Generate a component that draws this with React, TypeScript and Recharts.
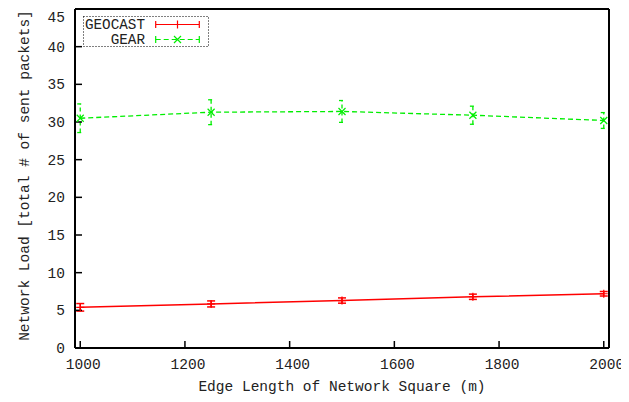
import { LineChart, Line, XAxis, YAxis, ErrorBar, Legend } from 'recharts';

const edgeLengths = [1000, 1250, 1500, 1750, 2000];
const geocastLoad = [5.4, 5.85, 6.3, 6.8, 7.2];
const geocastErr = [0.5, 0.4, 0.35, 0.35, 0.3];
const gearLoad = [30.5, 31.3, 31.4, 30.9, 30.2];
const gearErr = [1.9, 1.65, 1.45, 1.2, 1.05];
const xTicks = [1000, 1200, 1400, 1600, 1800, 2000];
const yTicks = [0, 5, 10, 15, 20, 25, 30, 35, 40, 45];

const FONT = "'Liberation Mono', 'DejaVu Sans Mono', monospace";
const RED = '#ff0000';
const GREEN = '#00ee00';

const data = edgeLengths.map((x, i) => ({
  x,
  geocast: geocastLoad[i],
  geocastErr: geocastErr[i],
  gear: gearLoad[i],
  gearErr: gearErr[i],
}));

function plusMark(cx: number, cy: number, color: string, key?: string | number) {
  return (
    <path
      key={key}
      d={`M${cx - 4},${cy}h8M${cx},${cy - 4}v8`}
      stroke={color}
      strokeWidth={1.2}
      fill="none"
    />
  );
}

function crossMark(cx: number, cy: number, color: string, key?: string | number) {
  return (
    <path
      key={key}
      d={`M${cx - 3.5},${cy - 3.5}l7,7M${cx - 3.5},${cy + 3.5}l7,-7`}
      stroke={color}
      strokeWidth={1.2}
      fill="none"
    />
  );
}

function LegendBox() {
  const textStyle = { fontFamily: FONT, fontSize: 14.3, fill: '#222' };
  return (
    <svg width={127} height={32} style={{ display: 'block', overflow: 'visible' }}>
      <rect x={0.5} y={0.5} width={125} height={30} fill="none" stroke="#000" strokeDasharray="1 2" />
      <text x={62} y={8.5} textAnchor="end" dominantBaseline="central" style={textStyle}>
        GEOCAST
      </text>
      <path d="M72.7,8.5H116.3M72.7,5v7M116.3,5v7" stroke={RED} strokeWidth={1.2} fill="none" />
      {plusMark(94.5, 8.5, RED)}
      <text x={62} y={23.5} textAnchor="end" dominantBaseline="central" style={textStyle}>
        GEAR
      </text>
      <path d="M72.7,23.5H116.3" stroke={GREEN} strokeWidth={1.2} strokeDasharray="5 3" fill="none" />
      <path d="M72.7,20v7M116.3,20v7" stroke={GREEN} strokeWidth={1.2} fill="none" />
      {crossMark(94.5, 23.5, GREEN)}
    </svg>
  );
}

const tickStyle = { fontFamily: FONT, fontSize: 14.5, fill: '#222' };

export default function App() {
  return (
    <LineChart
      width={621}
      height={386}
      data={data}
      margin={{ top: 0, right: 19, bottom: 0, left: 0 }}
      style={{ fontFamily: FONT }}
    >
      <XAxis
        dataKey="x"
        type="number"
        domain={[990, 2010]}
        ticks={xTicks}
        allowDataOverflow
        height={46}
        axisLine={{ stroke: '#000', strokeWidth: 2 }}
        tickLine={{ stroke: '#000', strokeWidth: 1.5 }}
        tickSize={-7}
        tickMargin={18}
        tick={{ ...tickStyle, dx: 3 }}
        label={({ viewBox }: any) => (
          <text
            x={viewBox.x + viewBox.width / 2}
            y={viewBox.y + 43}
            textAnchor="middle"
            style={tickStyle}
          >
            Edge Length of Network Square (m)
          </text>
        )}
      />
      <XAxis
        xAxisId="top"
        orientation="top"
        type="number"
        domain={[990, 2010]}
        ticks={xTicks}
        allowDataOverflow
        height={1}
        axisLine={{ stroke: '#000', strokeWidth: 2 }}
        tickLine={{ stroke: '#000', strokeWidth: 1.5 }}
        tickSize={-7}
        tick={false}
      />
      <YAxis
        type="number"
        domain={[0, 45]}
        ticks={yTicks}
        allowDataOverflow
        width={67}
        axisLine={{ stroke: '#000', strokeWidth: 2 }}
        tickLine={{ stroke: '#000', strokeWidth: 1.5 }}
        tickSize={-7}
        tickMargin={17}
        tick={tickStyle}
        label={({ viewBox }: any) => {
          const cx = viewBox.x + 16;
          const cy = viewBox.y + viewBox.height / 2 - 3;
          return (
            <text
              x={cx}
              y={cy}
              dy="0.35em"
              textAnchor="middle"
              transform={`rotate(-90 ${cx} ${cy})`}
              style={tickStyle}
            >
              Network Load [total # of sent packets]
            </text>
          );
        }}
      />
      <YAxis
        yAxisId="right"
        orientation="right"
        type="number"
        domain={[0, 45]}
        ticks={yTicks}
        allowDataOverflow
        width={1}
        axisLine={{ stroke: '#000', strokeWidth: 2 }}
        tickLine={{ stroke: '#000', strokeWidth: 1.5 }}
        tickSize={-7}
        tick={false}
      />
      <Legend
        layout="vertical"
        align="center"
        verticalAlign="middle"
        content={() => <LegendBox />}
        wrapperStyle={{ left: 75, top: 7.7, width: 127, height: 32 }}
      />
      <Line
        dataKey="geocast"
        name="GEOCAST"
        stroke={RED}
        strokeWidth={1.5}
        isAnimationActive={false}
        dot={(p: any) => plusMark(p.cx, p.cy, RED, `g-${p.index}`)}
        activeDot={false}
      >
        <ErrorBar dataKey="geocastErr" direction="y" width={4} stroke={RED} strokeWidth={1.5} isAnimationActive={false} />
      </Line>
      <Line
        dataKey="gear"
        name="GEAR"
        stroke={GREEN}
        strokeWidth={1.3}
        strokeDasharray="5 3"
        isAnimationActive={false}
        dot={(p: any) => crossMark(p.cx, p.cy, GREEN, `r-${p.index}`)}
        activeDot={false}
      >
        <ErrorBar
          dataKey="gearErr"
          direction="y"
          width={3}
          stroke={GREEN}
          strokeWidth={1.3}
          strokeDasharray="4 3"
          isAnimationActive={false}
        />
      </Line>
    </LineChart>
  );
}
